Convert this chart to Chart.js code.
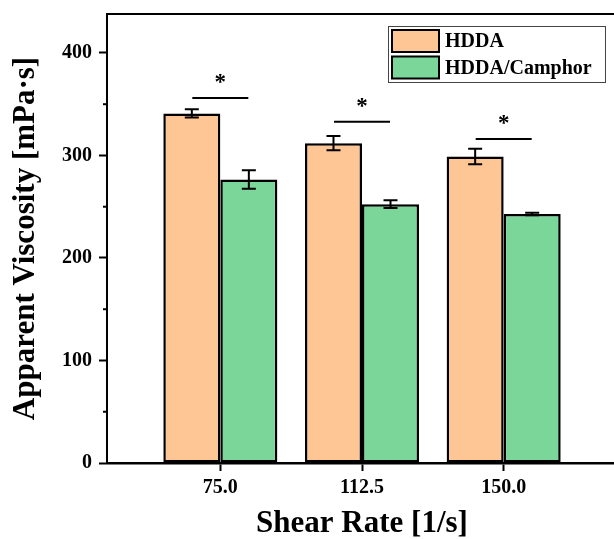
<!DOCTYPE html>
<html>
<head>
<meta charset="utf-8">
<script src="https://cdn.jsdelivr.net/npm/chart.js@4"></script>
<style>
  html, body { margin: 0; padding: 0; background: #fff; overflow: hidden; }
  #wrap { width: 617px; height: 539px; }
</style>
</head>
<body>
<div id="wrap"><canvas id="c" width="617" height="539"></canvas></div>
<script>
// ---- data ----
const categories = [75, 112.5, 150];
const tickLabels = ['75.0', '112.5', '150.0'];
const seriesNames = ['HDDA', 'HDDA/Camphor'];
const hddaValues = [341, 312, 299];
const hddaErrors = [4, 7, 7.5];
const camphorValues = [276.5, 252.5, 243];
const camphorErrors = [9, 3.7, 1.2];
const sigLineValues = [356, 333, 316];
const sigMarks = ['*', '*', '*'];
const yMajorTicks = [0, 100, 200, 300, 400];
const yMinorTicks = [50, 150, 250, 350];

// ---- styles ----
const orange = '#FEC595';
const green = '#7BD69A';
const serif = "'Liberation Serif', 'Times New Roman', serif";

const errorBarPlugin = {
  id: 'errorBars',
  afterDatasetsDraw(chart) {
    const ctx = chart.ctx;
    const y = chart.scales.y;
    const errs = [hddaErrors, camphorErrors];
    const vals = [hddaValues, camphorValues];
    ctx.save();
    ctx.strokeStyle = '#000';
    ctx.lineWidth = 2;
    chart.data.datasets.forEach((ds, di) => {
      const meta = chart.getDatasetMeta(di);
      meta.data.forEach((bar, i) => {
        const top = y.getPixelForValue(vals[di][i] + errs[di][i]);
        const bot = y.getPixelForValue(vals[di][i] - errs[di][i]);
        const cx = bar.x, hw = 7;
        ctx.beginPath();
        ctx.moveTo(cx, top); ctx.lineTo(cx, bot);
        ctx.moveTo(cx - hw, top); ctx.lineTo(cx + hw, top);
        ctx.moveTo(cx - hw, bot); ctx.lineTo(cx + hw, bot);
        ctx.stroke();
      });
    });
    // significance lines
    const x = chart.scales.x;
    ctx.lineWidth = 2;
    ctx.fillStyle = '#000';
    ctx.font = 'bold 23px ' + serif;
    ctx.textAlign = 'center';
    ctx.textBaseline = 'middle';
    categories.forEach((c, i) => {
      const py = y.getPixelForValue(sigLineValues[i]);
      const cx = x.getPixelForValue(c);
      ctx.beginPath();
      ctx.moveTo(cx - 28, py); ctx.lineTo(cx + 28, py);
      ctx.stroke();
      ctx.fillText(sigMarks[i], cx, py - 15);
    });
    ctx.restore();
  },
  afterDraw(chart) {
    const ctx = chart.ctx;
    const a = chart.chartArea;
    const y = chart.scales.y;
    ctx.save();
    // top frame line
    ctx.strokeStyle = '#000';
    ctx.lineWidth = 2;
    ctx.beginPath();
    ctx.moveTo(a.left - 1, a.top); ctx.lineTo(a.right + 2, a.top);
    ctx.stroke();
    // minor ticks
    yMinorTicks.forEach(v => {
      const py = y.getPixelForValue(v);
      ctx.beginPath();
      ctx.moveTo(a.left - 4, py); ctx.lineTo(a.left, py);
      ctx.stroke();
    });
    // legend
    const lx = 388, ly = 26, lw = 217, lh = 56;
    ctx.fillStyle = '#fff';
    ctx.fillRect(lx, ly, lw, lh);
    ctx.strokeStyle = '#444';
    ctx.lineWidth = 1;
    ctx.strokeRect(lx + 0.5, ly + 0.5, lw, lh);
    const colors = chart.data.datasets.map(d => d.backgroundColor);
    chart.data.datasets.forEach((ds, i) => {
      const sy = 30 + i * 26.5;
      ctx.fillStyle = colors[i];
      ctx.fillRect(392, sy, 47, 22);
      ctx.strokeStyle = '#000';
      ctx.lineWidth = 2;
      ctx.strokeRect(392, sy, 47, 22);
      ctx.fillStyle = '#000';
      ctx.font = 'bold 20px ' + serif;
      ctx.textAlign = 'left';
      ctx.textBaseline = 'middle';
      ctx.fillText(ds.label, 445, sy + 12);
    });
    ctx.restore();
  }
};

new Chart(document.getElementById('c'), {
  type: 'bar',
  data: {
    datasets: [
      {
        label: seriesNames[0],
        data: categories.map((c, i) => ({ x: c, y: hddaValues[i] })),
        backgroundColor: orange,
        borderColor: '#000',
        borderWidth: 2.5,
        borderSkipped: false
      },
      {
        label: seriesNames[1],
        data: categories.map((c, i) => ({ x: c, y: camphorValues[i] })),
        backgroundColor: green,
        borderColor: '#000',
        borderWidth: 2.5,
        borderSkipped: false
      }
    ]
  },
  plugins: [errorBarPlugin],
  options: {
    responsive: false,
    animation: false,
    devicePixelRatio: 1,
    categoryPercentage: 0.805,
    barPercentage: 1,
    layout: { padding: { top: 14, right: 0, bottom: 0, left: 0 } },
    plugins: { legend: { display: false }, tooltip: { enabled: false } },
    scales: {
      x: {
        type: 'linear',
        min: 45,
        max: 180,
        offset: false,
        afterBuildTicks: s => { s.ticks = categories.map(v => ({ value: v })); },
        afterFit: s => { s.paddingTop = 0; s.paddingLeft = 0; s.paddingRight = 0; },
        ticks: {
          callback: v => tickLabels[categories.indexOf(v)],
          font: { family: serif, size: 20, weight: 'bold' },
          color: '#000',
          padding: 5,
          maxRotation: 0,
          autoSkip: false
        },
        grid: { drawOnChartArea: false, drawTicks: true, tickLength: 8, tickColor: '#000', tickWidth: 2, offset: false },
        border: { display: true, color: '#000', width: 2.5 },
        title: {
          display: true,
          text: 'Shear Rate [1/s]',
          font: { family: serif, size: 31, weight: 'bold', lineHeight: 1 },
          color: '#000',
          padding: { top: 3, bottom: 0 }
        }
      },
      y: {
        min: 0,
        max: 438,
        afterBuildTicks: s => { s.ticks = yMajorTicks.map(v => ({ value: v })); },
        afterFit: s => { s.paddingTop = 0; s.paddingBottom = 0; },
        ticks: {
          font: { family: serif, size: 20, weight: 'bold' },
          color: '#000',
          padding: 7
        },
        grid: { drawOnChartArea: false, drawTicks: true, tickLength: 8, tickColor: '#000', tickWidth: 2 },
        border: { display: true, color: '#000', width: 2 },
        title: {
          display: true,
          text: 'Apparent Viscosity [mPa·s]',
          font: { family: serif, size: 31, weight: 'bold', lineHeight: 1 },
          color: '#000',
          padding: { top: 10, bottom: 14 }
        }
      }
    }
  }
});
</script>
</body>
</html>
